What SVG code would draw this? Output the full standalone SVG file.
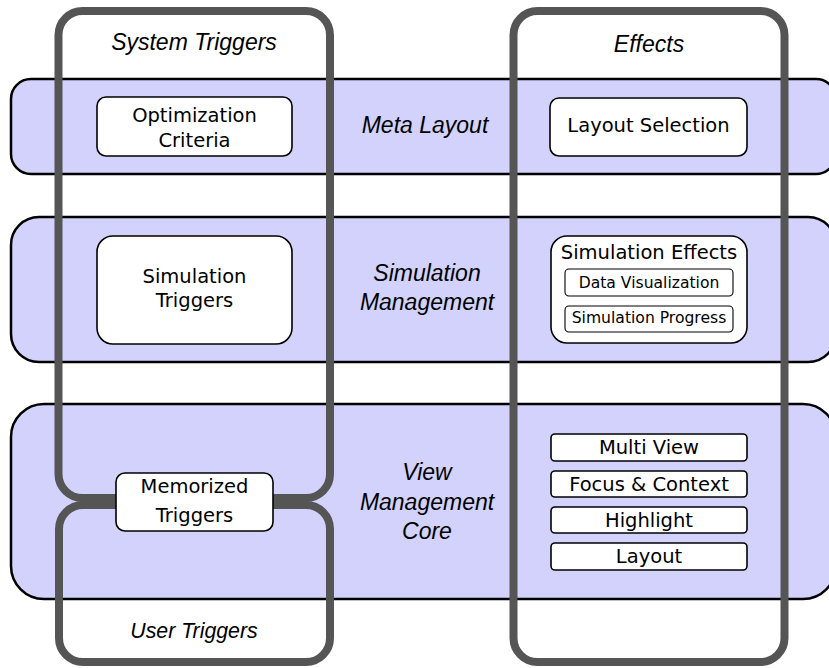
<svg xmlns="http://www.w3.org/2000/svg" width="829" height="668" viewBox="0 0 829 668">
<style>
.band{fill:#d2d2fd;stroke:#000;stroke-width:2.5}
.col{fill:none;stroke:#555;stroke-width:8}
.node{fill:#fff;stroke:#000;stroke-width:1.6}
.inner{fill:#fff;stroke:#000;stroke-width:1.1}
.lbl{font-family:"Liberation Sans",Arial,sans-serif;font-style:italic;font-size:23px;fill:#000;text-anchor:middle}
.t{font-family:"DejaVu Sans",sans-serif;font-size:19.5px;fill:#000;text-anchor:middle}
.ts{font-family:"DejaVu Sans",sans-serif;font-size:15.6px;fill:#000;text-anchor:middle}
</style>
<rect width="829" height="668" fill="#fff"/>
<g id="bands">
<g id="band-meta"><rect class="band" x="11" y="79" width="825" height="95" rx="20"/><text class="lbl" x="425" y="133">Meta Layout</text></g>
<g id="band-sim"><rect class="band" x="11" y="217" width="825" height="145" rx="28"/><text class="lbl" x="427" y="281">Simulation</text><text class="lbl" x="427" y="310">Management</text></g>
<g id="band-view"><rect class="band" x="11" y="404" width="825" height="195" rx="33"/><text class="lbl" x="427" y="480">View</text><text class="lbl" x="427" y="510">Management</text><text class="lbl" x="427" y="539">Core</text></g>
</g>
<g id="columns">
<g id="col-system"><rect class="col" x="58.5" y="11" width="271.5" height="487" rx="24"/><text class="lbl" x="194" y="50">System Triggers</text></g>
<g id="col-user"><rect class="col" x="59" y="505" width="271" height="157" rx="24"/><text class="lbl" x="194" y="638" style="font-size:21.3px">User Triggers</text></g>
<g id="col-effects"><rect class="col" x="513.5" y="11" width="271" height="651" rx="24"/><text class="lbl" x="649" y="52">Effects</text></g>
</g>
<g id="connectors"></g>
<g id="optimization-criteria"><rect class="node" x="97" y="97" width="195" height="59" rx="9"/><text class="t" x="194.5" y="122">Optimization</text><text class="t" x="194.5" y="147">Criteria</text></g>
<g id="layout-selection"><rect class="node" x="550" y="98" width="197" height="58" rx="9"/><text class="t" x="648.5" y="132">Layout Selection</text></g>
<g id="simulation-triggers"><rect class="node" x="97" y="236" width="195" height="108" rx="16"/><text class="t" x="194.5" y="283">Simulation</text><text class="t" x="194.5" y="307">Triggers</text></g>
<g id="simulation-effects"><rect class="node" x="551" y="236" width="196" height="107" rx="16"/><text class="t" x="649" y="259">Simulation Effects</text>
<rect class="inner" x="565" y="269" width="168" height="27" rx="4"/><text class="ts" x="649" y="288">Data Visualization</text>
<rect class="inner" x="565" y="306" width="168" height="26" rx="4"/><text class="ts" x="649" y="323">Simulation Progress</text></g>
<g id="memorized-triggers"><rect class="node" x="116" y="473" width="157" height="58" rx="9"/><text class="t" x="194.5" y="493">Memorized</text><text class="t" x="194.5" y="522">Triggers</text></g>
<g id="multi-view"><rect class="node" x="551" y="434" width="196" height="27" rx="4"/><text class="t" x="649" y="454">Multi View</text></g>
<g id="focus-context"><rect class="node" x="551" y="471" width="196" height="26" rx="4"/><text class="t" x="649" y="491">Focus &amp; Context</text></g>
<g id="highlight"><rect class="node" x="551" y="507" width="196" height="26" rx="4"/><text class="t" x="649" y="527">Highlight</text></g>
<g id="layout"><rect class="node" x="551" y="543" width="196" height="27" rx="4"/><text class="t" x="649" y="563">Layout</text></g>
</svg>
